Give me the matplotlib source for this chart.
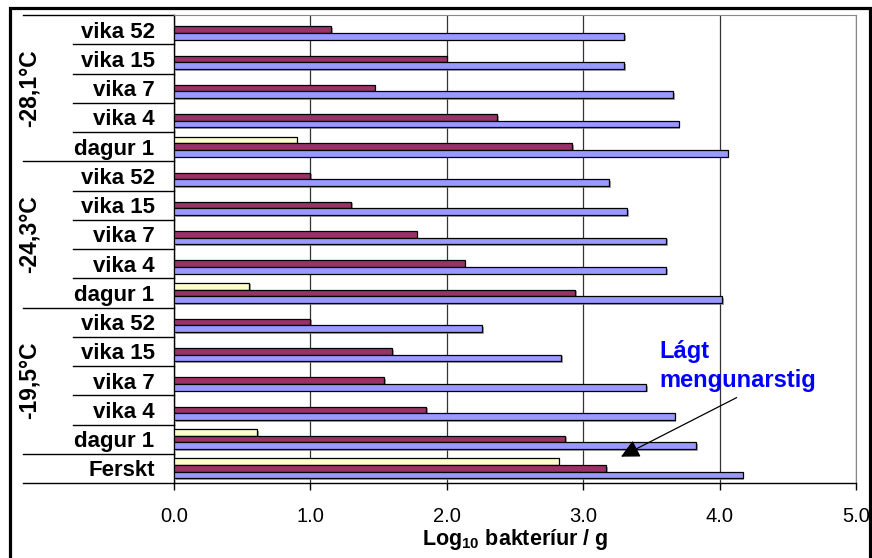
import matplotlib as mpl
import matplotlib.pyplot as plt
import matplotlib.patheffects as pe
import numpy as np
from matplotlib.patches import Rectangle
from matplotlib.transforms import blended_transform_factory

mpl.rcParams["font.family"] = "Liberation Sans"
mpl.rcParams["mathtext.fontset"] = "custom"
mpl.rcParams["mathtext.rm"] = "Liberation Sans:bold"
mpl.rcParams["mathtext.it"] = "Liberation Sans:bold"
mpl.rcParams["mathtext.bf"] = "Liberation Sans:bold"

# --- Data (top to bottom) ---
rows = ["vika 52", "vika 15", "vika 7", "vika 4", "dagur 1"] * 3 + ["Ferskt"]
groups = ["-28,1°C", "-24,3°C", "-19,5°C"]
group_size = 5
yellow = [None] * 4 + [0.90] + [None] * 4 + [0.55] + [None] * 4 + [0.61] + [2.82]
maroon = [1.15, 2.00, 1.47, 2.37, 2.92,
          1.00, 1.30, 1.78, 2.13, 2.94,
          1.00, 1.60, 1.54, 1.85, 2.87,
          3.17]
blue = [3.30, 3.30, 3.66, 3.70, 4.06,
        3.19, 3.32, 3.61, 3.61, 4.02,
        2.26, 2.84, 3.46, 3.67, 3.83,
        4.17]
x_ticks = [0, 1, 2, 3, 4, 5]

W, H = 872, 558
fig = plt.figure(figsize=(W / 100, H / 100), dpi=100)
ax = fig.add_axes([174 / W, 1 - 483 / H, (856 - 174) / W, (483 - 15) / H])

y = np.arange(len(rows))
bh = 0.23
shadow = [pe.SimplePatchShadow(offset=(1.2, -1.2), shadow_rgbFace="#808080", alpha=0.7), pe.Normal()]
for vals, color, off in [(yellow, "#FFFFCC", -bh), (maroon, "#993366", 0), (blue, "#9999FF", bh)]:
    idx = [i for i, v in enumerate(vals) if v is not None]
    bars = ax.barh(y[idx] + off, [vals[i] for i in idx], height=bh, color=color,
                   edgecolor="black", linewidth=0.9, zorder=3)
    for b in bars:
        b.set_path_effects(shadow)

ax.set_ylim(len(rows) - 0.5, -0.5)
ax.set_xlim(x_ticks[0], x_ticks[-1])
ax.set_xticks(x_ticks)
ax.set_xticklabels([f"{t:.1f}" for t in x_ticks])
ax.xaxis.grid(True, color="#333333", lw=0.9)
ax.set_axisbelow(True)
for s in ["top", "right"]:
    ax.spines[s].set_color("#888888")
for s in ["left", "bottom"]:
    ax.spines[s].set_color("black")
    ax.spines[s].set_linewidth(1)
ax.tick_params(axis="x", length=5, width=1, pad=12, labelsize=14.5)
ax.set_yticks(y)
ax.set_yticklabels(rows, fontsize=16, fontweight="bold")
ax.tick_params(axis="y", length=0, pad=14)

# category / group divider lines left of the axis
trans = blended_transform_factory(ax.transAxes, ax.transData)
outer = set(range(0, len(rows), group_size)) | {len(rows) - 1, len(rows)}
for k in range(len(rows) + 1):
    x0 = -0.2214 if k in outer else -0.148
    ax.plot([x0, 0], [k - 0.5, k - 0.5], transform=trans, color="black", lw=1, clip_on=False)
for g, name in enumerate(groups):
    ax.text(-0.2126, g * group_size + (group_size - 1) / 2, name, transform=trans,
            rotation=90, ha="center", va="center", fontsize=16.5, fontweight="bold")

ax.text(0.5, -0.1215, "Log$_{10}$ bakteríur / g", transform=ax.transAxes,
        ha="center", va="center", fontsize=15.5, fontweight="bold")

# annotation
ax.text(3.56, 10.62, "Lágt\nmengunarstig", color="#0000FF", fontsize=17,
        fontweight="bold", ha="left", va="top", linespacing=1.3)
ax.annotate("", xy=(3.277, 14.6), xytext=(4.125, 12.58),
            arrowprops=dict(arrowstyle="-|>", color="black", lw=0.9,
                            mutation_scale=28, shrinkA=0, shrinkB=0))

# outer frame
fig.patches.append(Rectangle((9.5 / W, -0.05), (869.5 - 9.5) / W, 1.05 - 8 / H,
                             transform=fig.transFigure, fill=False, lw=2.3,
                             edgecolor="black", zorder=10))

fig.savefig("out.png", dpi=100)
